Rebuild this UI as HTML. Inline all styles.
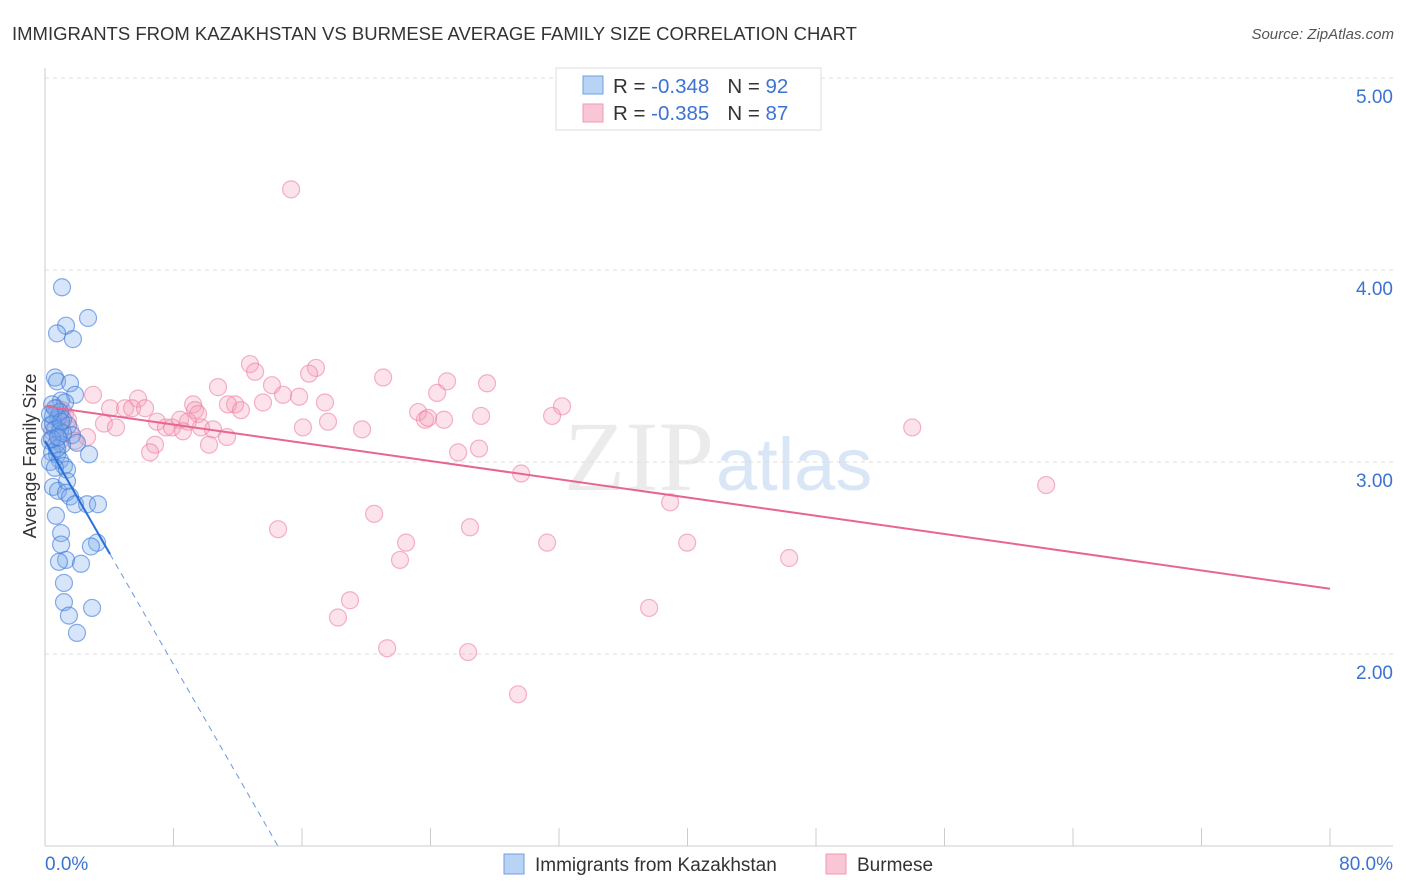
<!DOCTYPE html>
<html><head><meta charset="utf-8"><style>
body{margin:0;background:#fff;font-family:"Liberation Sans",sans-serif}
svg{display:block}
</style></head><body>
<svg id="c" width="1406" height="892" xmlns="http://www.w3.org/2000/svg">
<text x="12" y="40" font-size="18.5" fill="#333">IMMIGRANTS FROM KAZAKHSTAN VS BURMESE AVERAGE FAMILY SIZE CORRELATION CHART</text>
<text x="1394" y="39" font-size="15" fill="#555" font-style="italic" text-anchor="end">Source: ZipAtlas.com</text>
<text x="714" y="490" font-size="100" fill="#ebebeb" text-anchor="end" font-family="Liberation Serif">ZIP</text>
<text x="716" y="490" font-size="74" fill="#d8e6f5">atlas</text>
<g id="grid"></g><g id="marks"></g>
<text x="36" y="456" font-size="18" fill="#333" text-anchor="middle" transform="rotate(-90 36 456)">Average Family Size</text>
<g>
<rect x="556" y="68" width="265" height="62" fill="#fff" stroke="#ddd"/>
<rect x="583" y="76" width="20" height="18" fill="#b9d3f5" stroke="#6e9fe0"/>
<rect x="583" y="104" width="20" height="18" fill="#f9c6d5" stroke="#ee9ab3"/>
<text x="613" y="93" font-size="20.5" fill="#333">R = <tspan fill="#3b73d1">-0.348</tspan><tspan dx="18">N = </tspan><tspan fill="#3b73d1">92</tspan></text>
<text x="613" y="120" font-size="20.5" fill="#333">R = <tspan fill="#3b73d1">-0.385</tspan><tspan dx="18">N = </tspan><tspan fill="#3b73d1">87</tspan></text>
</g>
<g>
<rect x="504" y="854" width="20" height="20" fill="#b9d3f5" stroke="#6e9fe0"/>
<text x="535" y="871" font-size="19" fill="#333">Immigrants from Kazakhstan</text>
<rect x="826" y="854" width="20" height="20" fill="#f9c6d5" stroke="#ee9ab3"/>
<text x="857" y="871" font-size="19" fill="#333">Burmese</text>
</g>
</svg>
<script>
const yTicks=[2,3,4,5];
const yTickLabels=["2.00","3.00","4.00","5.00"];
const xTicks=[0,8,16,24,32,40,48,56,64,72,80];
const xEndLabels=["0.0%","80.0%"];
const blueX=[1.06,1.31,2.68,0.75,1.74,0.62,0.75,1.56,1.87,1.0,1.25,0.44,0.5,0.81,1.12,1.43,0.31,0.62,0.93,1.68,0.31,1.99,0.68,1.06,0.44,0.75,2.74,0.93,1.18,0.31,0.62,1.37,0.5,0.81,1.37,1.31,1.56,1.87,2.62,3.3,0.68,1.0,1.0,3.24,2.86,1.31,0.87,2.24,1.18,1.18,2.93,1.49,1.99,0.5,0.93,0.62,1.12,0.75,0.44,1.0,0.31,0.81];
const blueY=[3.91,3.71,3.75,3.67,3.64,3.44,3.42,3.41,3.35,3.32,3.31,3.30,3.24,3.23,3.22,3.19,3.19,3.17,3.16,3.14,3.11,3.10,3.09,3.09,3.05,3.04,3.04,3.01,2.98,3.0,2.97,2.96,2.87,2.85,2.90,2.84,2.82,2.78,2.78,2.78,2.72,2.63,2.57,2.58,2.56,2.49,2.48,2.47,2.37,2.27,2.24,2.20,2.11,3.20,3.26,3.28,3.15,3.07,3.12,3.21,3.25,3.13];
const pinkX=[15.32,12.76,13.08,16.87,16.44,21.05,24.41,25.03,27.52,10.77,14.13,2.99,5.79,14.82,15.82,17.43,11.83,11.39,13.57,9.22,4.05,4.98,5.42,6.23,9.34,12.2,23.23,32.19,31.57,27.15,24.84,23.66,23.85,17.62,9.53,6.97,8.41,8.9,7.53,7.91,3.67,4.42,9.71,10.46,8.59,16.06,19.74,11.33,6.85,2.62,6.54,10.21,25.72,27.02,29.64,53.99,62.33,38.92,20.49,14.51,26.46,22.48,31.26,39.98,22.1,46.33,18.99,18.24,37.61,21.3,26.34,29.45,0.75,1.25,0.93,1.56,0.44,1.87,1.06,1.43,0.93];
const pinkY=[4.42,3.51,3.47,3.49,3.46,3.44,3.36,3.42,3.41,3.39,3.40,3.35,3.33,3.35,3.34,3.31,3.30,3.30,3.31,3.30,3.28,3.28,3.28,3.28,3.27,3.27,3.26,3.29,3.24,3.24,3.22,3.22,3.23,3.21,3.25,3.21,3.22,3.21,3.18,3.18,3.20,3.18,3.18,3.17,3.16,3.18,3.17,3.13,3.09,3.13,3.05,3.09,3.05,3.07,2.94,3.18,2.88,2.79,2.73,2.65,2.66,2.58,2.58,2.58,2.49,2.50,2.28,2.19,2.24,2.03,2.01,1.79,3.28,3.25,3.2,3.17,3.16,3.11,3.27,3.22,3.11];
const pinkTrend=[[0,3.29],[80,2.34]];
const blueTrendSolid=[[0,3.11],[4.05,2.52]];
const blueTrendDash=[[4.05,2.52],[14.5,1.0]];
const X=v=>45+v/80*1285, Y=v=>846-(v-1)*192;
const NS="http://www.w3.org/2000/svg";
function mk(t,a,p){const e=document.createElementNS(NS,t);for(const k in a)e.setAttribute(k,a[k]);p.appendChild(e);return e;}
const g=document.getElementById('grid'), m=document.getElementById('marks');
yTicks.forEach((t,i)=>{
 const l=mk('line',{x1:45,x2:1393,y1:Y(t),y2:Y(t),stroke:'#ddd','stroke-dasharray':'4 4'},g);
 
 
 const tx=mk('text',{x:1393,y:Y(t)+25,'font-size':19,fill:'#3b73d1','text-anchor':'end'},g);tx.textContent=yTickLabels[i];
 
 
});
mk('line',{x1:45,x2:45,y1:68,y2:846,stroke:'#ccc'},g);
mk('line',{x1:45,x2:1393,y1:846,y2:846,stroke:'#ccc'},g);
xTicks.forEach(t=>{const l=mk('line',{x1:X(t),x2:X(t),y1:828,y2:846,stroke:'#ccc'},g);
 
 });
const t0=mk('text',{x:45,y:870,'font-size':19,fill:'#3b73d1'},g);t0.textContent=xEndLabels[0];


const t1=mk('text',{x:1393,y:870,'font-size':19,fill:'#3b73d1','text-anchor':'end'},g);t1.textContent=xEndLabels[1];


pinkX.forEach((v,i)=>{const c=mk('circle',{cx:X(v),cy:Y(pinkY[i]),r:8.5,fill:'rgba(244,160,186,0.3)',stroke:'rgba(236,130,162,0.6)','stroke-width':1.2},m);
 
 });
blueX.forEach((v,i)=>{const c=mk('circle',{cx:X(v),cy:Y(blueY[i]),r:8.5,fill:'rgba(120,170,235,0.3)',stroke:'rgba(60,120,215,0.6)','stroke-width':1.2},m);
 
 });
const pl=mk('line',{x1:X(pinkTrend[0][0]),y1:Y(pinkTrend[0][1]),x2:X(pinkTrend[1][0]),y2:Y(pinkTrend[1][1]),stroke:'#e8658f','stroke-width':2},m);


const bl=mk('line',{x1:X(blueTrendSolid[0][0]),y1:Y(blueTrendSolid[0][1]),x2:X(blueTrendSolid[1][0]),y2:Y(blueTrendSolid[1][1]),stroke:'#2a6fd6','stroke-width':2},m);


const bd=mk('line',{x1:X(blueTrendDash[0][0]),y1:Y(blueTrendDash[0][1]),x2:X(blueTrendDash[1][0]),y2:Y(blueTrendDash[1][1]),stroke:'#6a98dd','stroke-width':1,'stroke-dasharray':'6 5'},m);


</script>
</body></html>
